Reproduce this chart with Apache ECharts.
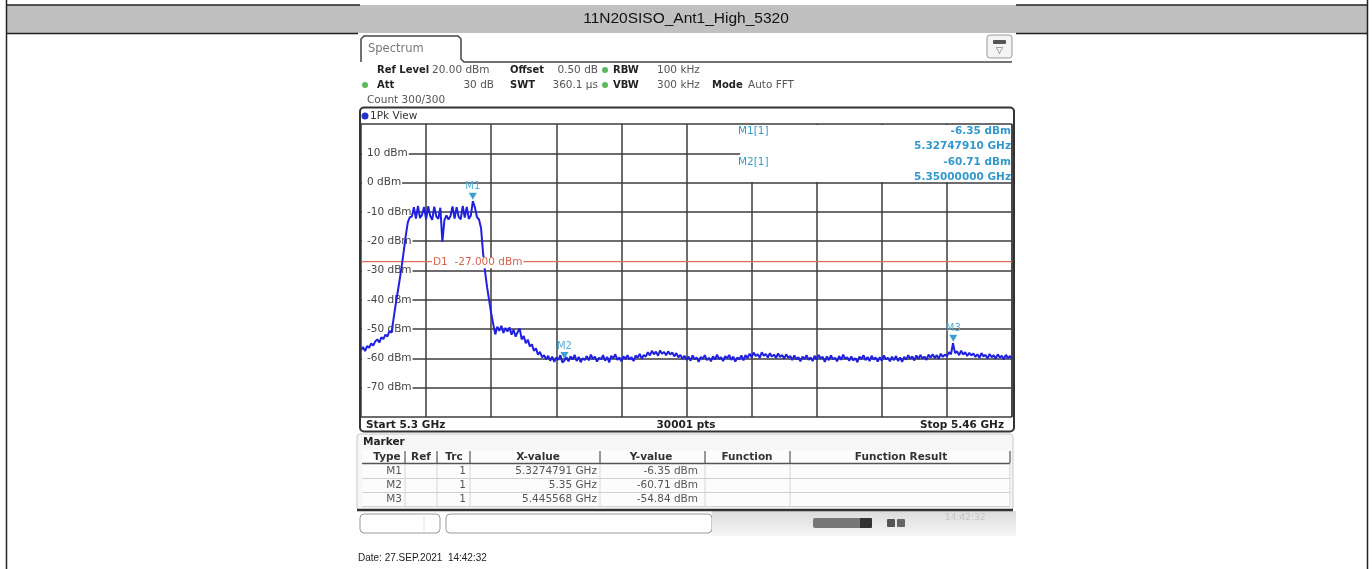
<!DOCTYPE html>
<html><head><meta charset="utf-8">
<script src="https://cdn.jsdelivr.net/npm/echarts@6/dist/echarts.min.js"></script>
<style>html,body{margin:0;padding:0;background:#fff}#c{width:1372px;height:569px}</style>
</head><body><div id="c"></div>
<script>
// ---------- data ----------
const pageTitle = '11N20SISO_Ant1_High_5320';
const startGHz = 5.3;
const stopGHz = 5.46;
const sweepStepMHz = 0.5;          // spacing of the read-off trace samples
const yMin = -80, yMax = 20, yStep = 10;
const xDivisions = 10;
const displayLineLevel = -27;
const displayLineLabel = 'D1  -27.000 dBm';
const sweepPoints = '30001 pts';
const dateText = 'Date: 27.SEP.2021  14:42:32';

const headerLabels = ['Ref Level', 'Offset', 'RBW', 'Att', 'SWT', 'VBW', 'Mode'];
const headerValues = ['20.00 dBm', '0.50 dB', '100 kHz', '30 dB', '360.1 µs', '300 kHz', 'Auto FFT'];
const countText = 'Count 300/300';
const viewText = '1Pk View';

// trace levels (dBm), one per 0.5 MHz from 5.300 GHz to 5.460 GHz
const levels = [
  // 5300.0 - 5307.5
  -57.2, -56.1, -57.5, -55.8, -56.4, -54.9, -55.6, -54.2, -53.5, -54.6, -52.8, -53.4, -51.9, -52.5, -50.6, -51.3,
  // 5308.0 - 5312.0
  -46.5, -41.8, -37.5, -33.2, -28.6, -23.5, -18.2, -13.6, -11.8,
  // 5312.5 - 5329.0
  -11.6, -8.4, -12.3, -8.0, -12.1, -11.0, -8.3, -12.5, -8.1, -11.3,
  -12.7, -8.2, -11.5, -12.4, -8.6, -20.2, -12.8, -11.2, -12.6, -11.4,
  -8.1, -12.3, -8.4, -11.7, -12.5, -8.0, -11.9, -8.3, -12.4, -11.2,
  -6.35, -8.5, -11.8, -12.6,
  // 5329.5 - 5345.0
  -15.5, -24.0, -30.5, -35.8, -40.2, -44.6, -48.3, -51.8, -49.2, -50.6,
  -48.9, -51.3, -49.6, -50.8, -49.4, -51.9, -50.2, -52.6, -51.0, -49.8,
  -53.5, -52.4, -54.8, -53.6, -55.9, -55.2, -57.4, -56.6, -58.7, -57.8,
  -59.6, -58.9,
  // 5345.5 - 5460.0
  -60.3, -59.1, -60.8, -59.4, -61.2, -59.7, -60.5, -58.9, -61.4, -60.71,
  -59.6, -61.0, -59.3, -60.4, -58.8, -60.9, -59.5, -61.3, -59.9, -60.6,
  -59.2, -60.7, -58.7, -60.2, -59.4, -61.1, -59.8, -60.3, -58.9, -60.8,
  -59.5, -61.4, -59.1, -60.0, -58.6, -60.5, -59.7, -61.0, -59.3, -60.2,
  -58.9, -60.4, -59.6, -60.9, -59.0, -59.8, -58.5, -60.1, -58.8, -59.4,
  -57.9, -59.0, -57.4, -58.6, -57.7, -59.1, -57.3, -58.4, -57.8, -58.9,
  -57.6, -58.7, -58.0, -59.3, -58.2, -59.6, -58.8, -60.2, -59.1, -60.5,
  -59.4, -60.8, -59.0, -60.3, -59.7, -61.2, -59.5, -60.1, -58.9, -60.6,
  -59.8, -61.0, -59.3, -60.4, -58.7, -60.2, -59.6, -60.9, -59.2, -60.0,
  -58.8, -60.5, -59.4, -61.1, -59.7, -60.3, -59.0, -60.7, -58.9, -59.9,
  -58.4, -59.6, -58.0, -59.2, -58.6, -59.8, -57.9, -59.1, -58.5, -59.7,
  -58.2, -59.4, -58.7, -59.9, -58.3, -59.5, -58.8, -60.1, -58.6, -59.8,
  -59.2, -60.6, -59.0, -60.3, -59.6, -61.0, -59.4, -60.2, -58.9, -60.5,
  -59.7, -60.9, -59.1, -60.4, -58.8, -60.0, -59.5, -61.2, -59.3, -60.6,
  -59.0, -60.3, -59.8, -61.0, -59.2, -60.5, -58.7, -60.1, -59.6, -60.8,
  -59.3, -60.7, -59.9, -61.3, -59.4, -60.2, -58.9, -60.6, -59.5, -60.9,
  -59.1, -60.4, -59.7, -61.1, -59.6, -60.8, -59.0, -60.3, -59.8, -61.0,
  -59.4, -60.6, -59.2, -60.9, -59.7, -61.2, -59.5, -60.4, -58.9, -60.1,
  -59.3, -60.7, -59.0, -60.2, -58.8, -60.0, -59.4, -60.5, -58.7, -59.8,
  -58.6, -59.9, -58.9, -60.1, -58.4, -59.5, -58.7, -59.3, -57.9, -58.6,
  -54.84, -58.2, -57.6, -58.9, -57.4, -58.7, -57.9, -59.2, -58.1, -59.0,
  -58.3, -59.5, -58.6, -59.8, -58.2, -59.3, -58.8, -60.0, -58.5, -59.6,
  -58.9, -60.1, -58.6, -59.7, -59.1, -60.3, -58.8, -59.9, -59.2, -60.2
];

const markerNames = ['M1', 'M2', 'M3'];
const markerTrc = [1, 1, 1];
const markerFreqGHz = [5.3274791, 5.35, 5.445568];
const markerFreqText = ['5.3274791 GHz', '5.35 GHz', '5.445568 GHz'];
const markerLevel = [-6.35, -60.71, -54.84];
const tableHeads = ['Type', 'Ref', 'Trc', 'X-value', 'Y-value', 'Function', 'Function Result'];

// ---------- styles ----------
const F = '"DejaVu Sans", Verdana, sans-serif';
const traceColor = '#2020e0';
const markerColor = '#3b9fd4';
const readoutColor = '#3399cc';
const gridColor = '#3c3c3c';
const dLineColor = '#e06e58';

const spanMHz = (stopGHz - startGHz) * 1000;
const traceData = levels.map((v, i) => [i * sweepStepMHz, v]);
const toOff = g => (g - startGHz) * 1000;

const G = [];
const T = (text, x, y, o) => G.push(Object.assign({type: 'text', x, y, z: 20, silent: true,
  style: Object.assign({text, fill: '#333', font: '10px ' + F, align: 'left', verticalAlign: 'middle'}, (o || {}))}));
const R = (x, y, w, h, style, r, z) => G.push({type: 'rect', z: z == null ? 15 : z, silent: true,
  shape: {x, y, width: w, height: h, r: r || 0}, style});
const L = (x1, y1, x2, y2, stroke, lw, z) => G.push({type: 'line', z: z == null ? 16 : z, silent: true,
  shape: {x1, y1, x2, y2}, style: {stroke, lineWidth: lw || 1}});

// page frame + title band
R(6, 5, 1361, 28, {fill: '#c0c0c0'}, 0, 1);
L(6, 5, 360, 5, '#222', 1.5, 2);
L(1016, 5, 1367, 5, '#222', 1.5, 2);
L(6, 33.5, 358, 33.5, '#222', 1.5, 2);
L(1016, 33.5, 1367, 33.5, '#222', 1.5, 2);
L(6.5, 0, 6.5, 569, '#222', 1.5, 2);
L(1367.5, 0, 1367.5, 569, '#222', 1.5, 2);
T(pageTitle, 686, 19, {font: '15.5px "Liberation Sans", Arial, sans-serif', fill: '#111', align: 'center'});

// tab
G.push({type: 'polyline', z: 16, silent: true,
  shape: {points: [[361, 62], [361, 39], [364, 36], [458, 36], [461, 39], [461, 59], [464, 62], [1012, 62]]},
  style: {stroke: '#444', lineWidth: 1.5, fill: null}});
T('Spectrum', 368, 49, {font: '11.5px ' + F, fill: '#777'});
R(987, 35, 25, 23, {fill: '#f4f4f4', stroke: '#999', lineWidth: 1}, 3);
R(993, 40, 13, 4, {fill: '#555'}, 1, 17);
T('▽', 999.5, 51, {font: '9px ' + F, fill: '#555', align: 'center'});

// settings header
const hb = 'bold 10px ' + F;
const hr = '10.5px ' + F;
T(headerLabels[0], 377, 70, {font: hb, fill: '#222'});
T(headerValues[0], 432, 70, {font: hr, fill: '#555'});
T(headerLabels[1], 510, 70, {font: hb, fill: '#222'});
T(headerValues[1], 598, 70, {font: hr, fill: '#555', align: 'right'});
T(headerLabels[2], 613, 70, {font: hb, fill: '#222'});
T(headerValues[2], 657, 70, {font: hr, fill: '#555'});
T(headerLabels[3], 377, 85, {font: hb, fill: '#222'});
T(headerValues[3], 494, 85, {font: hr, fill: '#555', align: 'right'});
T(headerLabels[4], 510, 85, {font: hb, fill: '#222'});
T(headerValues[4], 598, 85, {font: hr, fill: '#555', align: 'right'});
T(headerLabels[5], 613, 85, {font: hb, fill: '#222'});
T(headerValues[5], 657, 85, {font: hr, fill: '#555'});
T(headerLabels[6], 712, 85, {font: hb, fill: '#222'});
T(headerValues[6], 748, 85, {font: hr, fill: '#555'});
T(countText, 367, 100, {font: hr, fill: '#555'});
G.push({type: 'circle', z: 16, silent: true, shape: {cx: 365, cy: 85, r: 3}, style: {fill: '#5cb85c'}});
G.push({type: 'circle', z: 16, silent: true, shape: {cx: 605, cy: 70, r: 3}, style: {fill: '#5cb85c'}});
G.push({type: 'circle', z: 16, silent: true, shape: {cx: 605, cy: 85, r: 3}, style: {fill: '#5cb85c'}});

// plot frame
R(360, 107.5, 654, 324, {fill: null, stroke: '#333', lineWidth: 2}, 4, 18);
G.push({type: 'circle', z: 19, silent: true, shape: {cx: 365, cy: 116, r: 3.5}, style: {fill: '#2233cc'}});
T(viewText, 370, 116, {font: hr, fill: '#333'});
// readout box
const rb = 'bold 10.5px ' + F;
R(740, 125, 271, 57, {fill: '#ffffff'}, 0, 12);
T(markerNames[0] + '[1]', 738, 131, {font: '10.5px ' + F, fill: readoutColor});
T(markerLevel[0].toFixed(2) + ' dBm', 1011, 131, {fill: readoutColor, font: rb, align: 'right'});
T(markerFreqGHz[0].toFixed(8) + ' GHz', 1011, 146, {fill: readoutColor, font: rb, align: 'right'});
T(markerNames[1] + '[1]', 738, 162, {font: '10.5px ' + F, fill: readoutColor});
T(markerLevel[1].toFixed(2) + ' dBm', 1011, 162, {fill: readoutColor, font: rb, align: 'right'});
T(markerFreqGHz[1].toFixed(8) + ' GHz', 1011, 177, {fill: readoutColor, font: rb, align: 'right'});
// bottom of plot
T('Start ' + startGHz + ' GHz', 366, 425, {font: rb, fill: '#222'});
T(sweepPoints, 686, 425, {font: rb, fill: '#222', align: 'center'});
T('Stop ' + stopGHz + ' GHz', 1004, 425, {font: rb, fill: '#222', align: 'right'});

// marker table
R(357, 434, 656, 76, {fill: '#f6f6f6', stroke: '#c8c8c8', lineWidth: 1}, 3);
T('Marker', 363, 442, {font: rb, fill: '#222'});
R(362, 450, 648, 57, {fill: '#fcfcfc'}, 0, 15);
const colSep = [405, 437, 470, 600, 705, 790, 1010];
const headX = [387, 421, 454, 538, 651, 747, 901];
tableHeads.forEach((h, i) => T(h, headX[i], 457, {font: rb, fill: '#333', align: 'center'}));
colSep.forEach(x => L(x, 451, x, 463, '#555', 1.2));
L(362, 463.5, 1010, 463.5, '#555', 1.5);
[478.5, 492.5, 506.5].forEach(y => L(362, y, 1010, y, '#d0d0d0', 1));
colSep.forEach(x => L(x, 464, x, 506, '#d6d6d6', 1));
markerNames.forEach((m, i) => {
  const y = 471 + i * 14;
  T(m, 402, y, {font: hr, fill: '#555', align: 'right'});
  T(String(markerTrc[i]), 466, y, {font: hr, fill: '#555', align: 'right'});
  T(markerFreqText[i], 597, y, {font: hr, fill: '#555', align: 'right'});
  T(markerLevel[i].toFixed(2) + ' dBm', 698, y, {font: hr, fill: '#555', align: 'right'});
});
L(357, 510, 1013, 510, '#333', 2.5, 17);

// status bar
R(360, 514, 80, 19, {fill: '#fff', stroke: '#9a9a9a', lineWidth: 1}, 4);
L(424, 516, 424, 531, '#e0e0e0', 1);
R(446, 514, 266, 19, {fill: '#fff', stroke: '#9a9a9a', lineWidth: 1}, 4);
R(712, 511, 304, 25, {fill: {type: 'linear', x: 0, y: 0, x2: 0, y2: 1, colorStops: [{offset: 0, color: '#dcdcdc'}, {offset: 1, color: '#f5f5f5'}]}}, 0);
R(813, 518, 50, 10, {fill: '#777'}, 2);
R(860, 518, 12, 10, {fill: '#333'}, 1);
R(887, 519, 8, 8, {fill: '#555'}, 1);
R(897, 519, 8, 8, {fill: '#666'}, 1);
T('14:42:32', 945, 518, {fill: '#c4c4c4', font: '9px ' + F});

// date
T(dateText, 358, 558, {font: '10px "Liberation Sans", Arial, sans-serif', fill: '#222'});

const chart = echarts.init(document.getElementById('c'), null, {renderer: 'canvas'});
chart.setOption({
  animation: false,
  backgroundColor: '#fff',
  grid: {left: 361, top: 124, width: 651, height: 293, containLabel: false},
  xAxis: {
    type: 'value', min: 0, max: spanMHz, interval: spanMHz / xDivisions,
    axisLine: {show: false}, axisTick: {show: false}, axisLabel: {show: false},
    splitLine: {show: true, lineStyle: {color: gridColor, width: 1.5}}
  },
  yAxis: {
    type: 'value', min: yMin, max: yMax, interval: yStep,
    axisLine: {show: false}, axisTick: {show: false},
    splitLine: {show: true, lineStyle: {color: gridColor, width: 1.5}},
    axisLabel: {
      inside: true, margin: 1, showMinLabel: false, showMaxLabel: false,
      color: '#444', fontFamily: F, fontSize: 10.5,
      backgroundColor: '#fff', padding: [0, 1, 0, 5],
      formatter: v => v + ' dBm'
    }
  },
  graphic: {elements: G},
  series: [{
    name: 'D1', type: 'line', data: [[0, displayLineLevel], [spanMHz, displayLineLevel]],
    showSymbol: false, symbol: 'none', silent: true, z: 3,
    lineStyle: {color: dLineColor, width: 1.3}
  }, {
    name: 'Trc1', type: 'line', data: traceData, showSymbol: false, symbol: 'none',
    lineStyle: {color: traceColor, width: 2}, z: 5,
    markPoint: {
      silent: true, animation: false,
      data: markerNames.map((m, i) => ({
        name: m, coord: [toOff(markerFreqGHz[i]), markerLevel[i]],
        symbol: 'triangle', symbolRotate: 180, symbolSize: [8, 7], symbolOffset: [0, -5],
        itemStyle: {color: markerColor},
        label: {show: true, formatter: m, position: 'top', distance: 1, color: '#55b0dc', fontSize: 10, fontFamily: F}
      }))
    }
  }]
});

// D1 label placed from the axis scale
const p = chart.convertToPixel({gridIndex: 0}, [0, displayLineLevel]);
G.push({type: 'text', z: 20, silent: true, x: p[0] + 71, y: p[1] + 1,
  style: {text: displayLineLabel, fill: '#d9634c', font: '10.5px ' + F, align: 'left', verticalAlign: 'middle',
    backgroundColor: '#fff', padding: [0, 1]}});
chart.setOption({graphic: {elements: G}});
</script>
</body></html>
